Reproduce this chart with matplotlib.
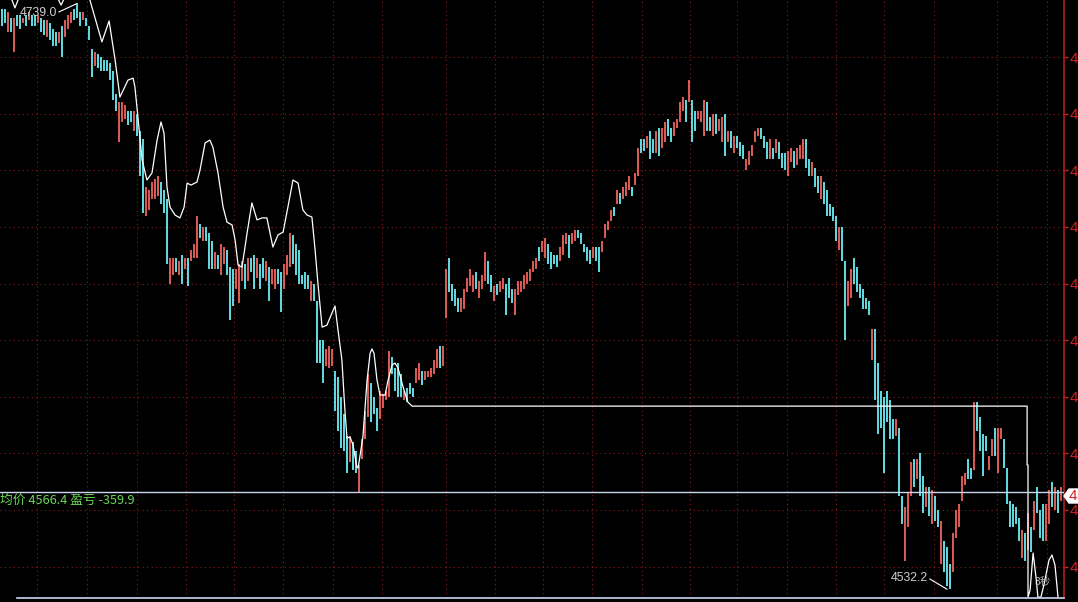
import numpy as np
import matplotlib
matplotlib.use('Agg')
import matplotlib.pyplot as plt
from matplotlib.patches import Polygon

# ---- dados ----
highs = [
    4737, 4737, 4736, 4734, 4734, 4735, 4735, 4734, 4735, 4736, 4735, 4735, 4735, 4734, 4733,
    4733, 4732, 4730, 4729, 4729, 4731, 4733, 4735, 4736, 4737, 4739, 4736, 4736, 4734, 4731,
    4723, 4722, 4721, 4720, 4719, 4719, 4718, 4715, 4707, 4704, 4704, 4703, 4701, 4701, 4701, 4700,
    4694, 4691, 4674, 4673, 4676, 4677, 4678, 4676, 4673, 4670, 4649, 4649, 4649, 4648, 4650,
    4649, 4649, 4652, 4654, 4664, 4661,
    4660, 4660, 4658, 4655, 4651, 4650, 4654, 4653, 4652, 4646, 4645, 4645, 4647, 4648, 4647,
    4649, 4649, 4650, 4649, 4647,
    4649, 4648, 4646, 4645, 4645, 4645, 4644, 4647, 4650, 4658, 4657, 4654, 4652, 4643, 4644,
    4643, 4641, 4640, 4634,
    4620, 4620, 4617, 4618, 4617, 4609, 4607, 4600, 4594, 4586, 4586, 4584, 4581, 4576, 4585,
    4595, 4608, 4605, 4600, 4596, 4602, 4601, 4602, 4616, 4614, 4610, 4612, 4608, 4602, 4603,
    4605, 4603, 4610, 4612, 4609, 4609, 4609, 4610, 4613, 4617, 4618, 4618,
    4645, 4649, 4640, 4638, 4635, 4635, 4638, 4642, 4645, 4643, 4644, 4641, 4643, 4651, 4648,
    4643, 4639, 4640, 4641, 4642, 4640, 4642, 4638, 4638, 4641, 4641, 4643, 4644, 4645, 4648,
    4649, 4653, 4655, 4656, 4654, 4651, 4650, 4650, 4653, 4657, 4658, 4657, 4658, 4659, 4659,
    4658, 4654, 4653, 4652, 4653, 4653, 4653,
    4655, 4661, 4662, 4666, 4667, 4673, 4672, 4674, 4676, 4678, 4674, 4679, 4688, 4691, 4691,
    4692, 4694, 4691, 4694, 4695, 4695, 4697, 4698, 4695, 4697, 4698, 4704, 4706, 4705, 4712,
    4705,
    4701, 4701, 4701, 4705, 4704, 4699, 4700, 4700, 4698, 4699, 4700, 4694, 4694, 4692, 4692,
    4690, 4689, 4684, 4687, 4689, 4694, 4695, 4695, 4692, 4690, 4691, 4688, 4691, 4690, 4686,
    4686, 4687, 4688, 4687, 4688, 4689, 4691, 4691, 4684, 4683, 4681,
    4678, 4678, 4676, 4673, 4668, 4667, 4664, 4660, 4660, 4648, 4641, 4645, 4649, 4646, 4640,
    4638, 4635, 4634, 4624, 4624, 4612, 4602, 4600, 4602, 4599, 4592, 4592, 4589, 4565,
    4561, 4566, 4577, 4578, 4578, 4580, 4572, 4568, 4568, 4567, 4565, 4560, 4556, 4549, 4547,
    4541, 4552, 4560, 4562, 4572, 4573, 4578, 4575, 4598, 4598, 4593, 4587, 4586, 4579, 4585,
    4589, 4589, 4589, 4585, 4575, 4563, 4562, 4561, 4557, 4553, 4552, 4559, 4554, 4563, 4568,
    4560, 4562, 4562, 4567, 4570, 4568, 4567, 4568,
]
lows = [
    4731, 4732, 4729, 4729, 4722, 4731, 4730, 4732, 4731, 4733, 4731, 4731, 4732, 4729, 4728,
    4727, 4726, 4724, 4724, 4725, 4720, 4727, 4730, 4732, 4733, 4734, 4731, 4733, 4731, 4726,
    4713, 4717, 4716, 4715, 4715, 4715, 4712, 4705, 4701, 4690, 4697, 4698, 4696, 4697, 4694, 4692,
    4678, 4665, 4664, 4666, 4670, 4670, 4671, 4668, 4665, 4647, 4640, 4643, 4644, 4643, 4640,
    4645, 4639, 4648, 4649, 4649, 4656,
    4655, 4655, 4645, 4645, 4645, 4645, 4643, 4647, 4643, 4627, 4632, 4638, 4633, 4641, 4638,
    4641, 4644, 4638, 4642, 4638,
    4642, 4641, 4634, 4640, 4638, 4640, 4630, 4638, 4643, 4646, 4647, 4643, 4640, 4640, 4638,
    4638, 4634, 4634, 4612,
    4612, 4605, 4611, 4610, 4611, 4595, 4588, 4582, 4581, 4573, 4577, 4574, 4573, 4566, 4578,
    4585, 4593, 4591, 4594, 4588, 4592, 4596, 4599, 4600, 4608, 4602, 4600, 4600, 4599, 4598,
    4601, 4600, 4605, 4606, 4604, 4606, 4607, 4607, 4608, 4610, 4610, 4611,
    4628, 4637, 4634, 4632, 4630, 4630, 4631, 4637, 4639, 4637, 4638, 4635, 4638, 4641, 4640,
    4637, 4634, 4636, 4637, 4638, 4629, 4635, 4633, 4629, 4636, 4637, 4638, 4640, 4641, 4644,
    4645, 4648, 4651, 4649, 4647, 4645, 4647, 4646, 4648, 4650, 4654, 4649, 4654, 4655, 4656,
    4654, 4651, 4648, 4647, 4649, 4648, 4644,
    4651, 4656, 4659, 4662, 4664, 4668, 4668, 4670, 4671, 4673, 4671, 4675, 4678, 4686, 4687,
    4688, 4684, 4686, 4686, 4685, 4688, 4690, 4692, 4690, 4692, 4695, 4697, 4701, 4697, 4704,
    4690,
    4694, 4698, 4697, 4692, 4694, 4694, 4692, 4693, 4694, 4690, 4685, 4690, 4688, 4686, 4688,
    4685, 4684, 4680, 4682, 4685, 4690, 4692, 4691, 4688, 4684, 4684, 4684, 4686, 4684, 4681,
    4680, 4678, 4683, 4681, 4682, 4684, 4684, 4681, 4678, 4678, 4674,
    4672, 4670, 4668, 4664, 4664, 4662, 4655, 4652, 4648, 4620, 4632, 4635, 4640, 4637, 4635,
    4631, 4631, 4629, 4613, 4599, 4587, 4589, 4573, 4591, 4585, 4585, 4586, 4565, 4555,
    4542, 4554, 4565, 4568, 4571, 4565, 4559, 4561, 4558, 4555, 4556, 4554, 4541, 4538, 4533,
    4532.2, 4538, 4550, 4554, 4563, 4569, 4571, 4571, 4574, 4588, 4581, 4572, 4581, 4574, 4579,
    4579, 4573, 4585, 4575, 4562, 4554, 4554, 4555, 4549, 4543, 4542, 4546, 4545, 4553, 4559,
    4550, 4549, 4549, 4555, 4561, 4560, 4559, 4563,
]
# r = alta (vermelho), c = baixa (ciano)
cores_barras = (
    "ccrcrccrcrccrccrcccrcrrrcccrcc"
    "crcccccccrrrccrc"
    "ccrrrrrcccrrcrcrcrrrc"
    "rcccrcrrcccrrrcrccrc"
    "crcrrccrrrccccccrcc"
    "ccrrrcccccrccrrrrcccrrrrccccrcccrrcrrrrrcr"
    "rccccrrrrrcrrrccrcrrcccrrrrrrrrcrrccccrrrcrrcccccrcc"
    "rrrrcrcrrrcrrccrccrcrrccrrrrcrc"
    "crrrccrcrrcrcrcccrrrrrcccrcrcccrrcrrrccrc"
    "crcccccrccrrccccccrcccccccrcc"
    "rrrcrccrcrccrcccrrrrrccrccccrrcrrccccccrcrcrcccrrcrcr"
)

# linha branca (indicador): posição em barras, preço
linha_x = [-0.7, 2.7, 4.3, 6, 12, 18, 19.7, 21.3, 25.3, 28.7, 29.3, 33.3, 35.7, 37.7, 39.3, 42,
           43.7, 44.3, 45.3, 46.7, 48.3, 50, 51.7, 53, 54, 55, 56, 57.7, 59.3, 60.7, 61.7, 63,
           65, 66, 67.7, 69.3, 70.3, 72, 73.7, 75, 76.7, 77.7, 78.7, 80, 81.7, 83.3, 85, 86.7,
           88.3, 90.3, 92, 93.7, 95.3, 97, 98.7, 100.3, 101.7, 103.3, 104.3, 105.3, 106.7,
           108.3, 110, 111, 112, 113.3, 114.3, 115, 116, 117, 118.3, 118.7, 120.3, 121.7,
           122.7, 123.3, 124, 125, 126, 127.7, 128.7, 130, 131, 132, 133.7, 135.3, 136.7,
           341.7, 341.7, 342, 342, 342.7, 343.7, 344.7, 345.3, 346.3, 347.3, 349, 350, 351, 352]
linha_y = [4751, 4742, 4737.4, 4742, 4754, 4742, 4738.4, 4742, 4751, 4742, 4740.2, 4725.4,
           4732.8, 4719, 4705.9, 4711.9, 4712.6, 4709.5, 4698.9, 4683.7, 4676.6, 4679.1,
           4690.7, 4697.1, 4693.2, 4674.1, 4667, 4664.2, 4663.2, 4667, 4675.5, 4674.8, 4675.9,
           4680.1, 4689.7, 4690.7, 4688.2, 4679.1, 4667, 4661.7, 4660.7, 4655.4, 4646.5,
           4645.8, 4657.9, 4668.5, 4662.5, 4663.2, 4663.2, 4652.9, 4657.2, 4658.2, 4667,
           4676.6, 4675.5, 4666, 4664.2, 4663.5, 4652.6, 4640.2, 4624.6, 4625.3, 4629.6,
           4632.1, 4623.6, 4613, 4595.3, 4585.4, 4585.8, 4583, 4575.2, 4574.8, 4585.8,
           4605.9, 4615.4, 4616.9, 4615.4, 4605.9, 4600.6, 4600.6, 4605.9, 4611.2, 4611.9,
           4610.2, 4603.4, 4598.1, 4596.7,
           4596.7, 4575.9, 4575.9, 4529.2, 4531.7, 4544.8, 4535.9, 4529.2, 4529.2, 4533.5,
           4542.3, 4544.1, 4540.5, 4529.2]

preco_medio = 4566.4
lucro = -359.9
maxima = 4739.0
minima = 4532.2
niveis_grade = [4540, 4560, 4580, 4600, 4620, 4640, 4660, 4680, 4700, 4720]
grade_tempo = [11.7, 28.3, 45, 61.3, 77.3, 93.7, 110.3, 126.7, 148, 164.3, 180.3, 196.7,
               213.3, 229.3, 245, 261.7, 278, 294, 310.7, 331.7, 348.3]

VERMELHO = '#e8605a'
CIANO = '#66e6ec'
GRADE = '#8a1c1c'

fig = plt.figure(figsize=(10.78, 6.02), dpi=100, facecolor='black')
ax = fig.add_axes([0, 4 / 602, 1064 / 1078, 598 / 602])
ax.set_facecolor('black')
ax.set_xlim(-2 / 3, 354)
ax.set_ylim(4528.9, 4740.2)

# grade pontilhada
for p in niveis_grade:
    ax.axhline(p, color=GRADE, lw=0.8, ls=(0, (1, 3)), zorder=1)
for gx in grade_tempo:
    ax.axvline(gx, color=GRADE, lw=0.8, ls=(0, (1, 3)), zorder=1)

# barras
x = np.arange(len(highs))
cores = [VERMELHO if c == 'r' else CIANO for c in cores_barras]
ax.vlines(x, lows, highs, colors=cores, lw=1.35, zorder=3)

# indicador
ax.plot(linha_x, linha_y, color='white', lw=0.9, zorder=4)

# linha do preço médio
ax.axhline(preco_medio, color='#c8d6ee', lw=1.0, zorder=5)

# linha de baixo
ax.plot([5, 354], [4528.9, 4528.9], color='#c8d6ee', lw=1.2, clip_on=False, zorder=5)

# eixos (só o primeiro dígito cabe na imagem)
for s in ['top', 'left', 'bottom']:
    ax.spines[s].set_visible(False)
ax.spines['right'].set_color('#a81818')
ax.spines['right'].set_linewidth(1.3)
ax.set_xticks([])
ax.yaxis.tick_right()
ax.set_yticks(niveis_grade)
ax.set_yticklabels([str(p)[0] for p in niveis_grade])
ax.tick_params(axis='y', colors='#d42020', length=3, width=1, pad=1, labelsize=11)
for t in ax.get_yticklabels():
    t.set_family(['Liberation Sans', 'DejaVu Sans'])

# rótulos de máxima / mínima
ax.text(18.3, 4735.6, f'{maxima:.1f}', color='#cfcfcf', fontsize=8.8, ha='right', va='center',
        family=['Liberation Sans', 'DejaVu Sans'], zorder=6)
ax.plot([19, 24.7], [4736, 4738.8], color='white', lw=0.8, zorder=6)
ax.text(308.7, 4536, f'{minima:.1f}', color='#cfcfcf', fontsize=8.8, ha='right', va='center',
        family=['Liberation Sans', 'DejaVu Sans'], zorder=6)
ax.plot([309.3, 315], [4535.6, 4532.0], color='white', lw=0.8, zorder=6)

ax.text(347, 4534.5, '3秒', color='#b8b8b8', fontsize=7.5, ha='center', va='center',
        family=['Noto Sans CJK SC', 'DejaVu Sans'], zorder=6)

# texto verde
ax.text(-0.6, 4563.3, f'均价 {preco_medio:.1f} 盈亏 {lucro:.1f}', color='#6ad858', fontsize=9.2,
        ha='left', va='center', family=['Noto Sans CJK SC', 'DejaVu Sans'], zorder=6)

# etiqueta do preço atual à direita
pts = [(1064, 496), (1069, 489), (1078, 489), (1078, 503), (1069, 503)]
fig.patches.append(Polygon([(px / 1078, 1 - py / 602) for px, py in pts], closed=True,
                           transform=fig.transFigure, facecolor='white', edgecolor='white'))
fig.text(1073 / 1078, 1 - 496 / 602, '4', color='#d42020', fontsize=11, ha='center', va='center',
         family=['Liberation Sans', 'DejaVu Sans'])

fig.savefig('out.png', dpi=100, facecolor='black')
